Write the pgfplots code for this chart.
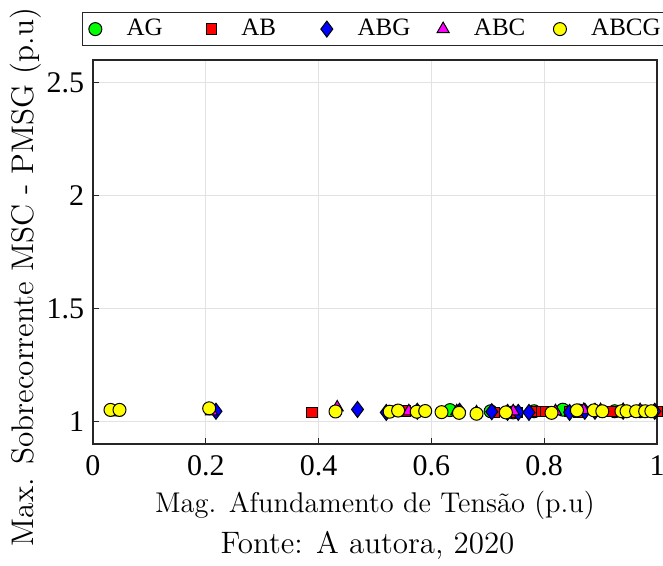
\documentclass[border=0pt]{standalone}
\usepackage{fontspec}
\usepackage{pgfplots}
\pgfplotsset{compat=1.18}
\newfontfamily\timesf{Liberation Serif}
\definecolor{gridc}{RGB}{226,226,226}
\definecolor{axc}{RGB}{38,38,38}
\definecolor{mgreen}{RGB}{0,255,0}
\definecolor{mred}{RGB}{255,0,0}
\definecolor{mblue}{RGB}{0,0,255}
\definecolor{mmag}{RGB}{255,0,255}
\definecolor{myel}{RGB}{255,255,0}
\newcommand{\lb}[1]{\makebox[29.8pt][l]{#1}}
\begin{document}
\begin{tikzpicture}
\useasboundingbox (-37.2pt,-48.4pt) rectangle (228pt,177.6pt);
\begin{axis}[
  at={(0,0)}, anchor=south west,
  width=225.6pt, height=153.6pt, scale only axis,
  xmin=0, xmax=1, ymin=0.9, ymax=2.6,
  xtick={0,0.2,0.4,0.6,0.8,1}, ytick={1,1.5,2,2.5},
  xticklabels={0,0.2,0.4,0.6,0.8,1},
  yticklabels={1,1.5,2,2.5},
  grid=major, major grid style={gridc, line width=0.5pt},
  axis line style={axc, line width=0.6pt},
  tick align=inside, xtick pos=bottom, ytick pos=left,
  major tick length=2.5pt, tick style={axc, line width=0.5pt},
  ticklabel style={font=\timesf\fontsize{12}{14}\selectfont},
  xticklabel style={yshift=-1pt},
  xlabel={Mag. Afundamento de Tensão (p.u)},
  ylabel={Max. Sobrecorrente MSC - PMSG (p.u)},
  xlabel style={font=\fontsize{11.4}{14}\selectfont, at={(axis description cs:0.5,-0.159)}, anchor=center},
  ylabel style={font=\fontsize{12.5}{14}\selectfont, at={(axis description cs:-0.12,0.435)}, anchor=center},
  clip=false,
  legend style={at={(axis description cs:0.504,1)}, yshift=5.5pt, anchor=south, legend columns=-1,
    draw=axc, line width=0.6pt, font=\timesf\fontsize{10}{12}\selectfont,
    inner ysep=0.5pt, inner xsep=2.5pt,
    nodes={inner ysep=2pt},
    /tikz/every odd column/.append style={column sep=7.9pt},
    /tikz/every even column/.append style={column sep=0pt}},
  legend cell align=left,
]
\addplot[only marks, mark=*, mark size=2.6pt, mark options={fill=mgreen, draw=black, line width=0.4pt}] coordinates {
(0.633,1.050) (0.705,1.045) (0.745,1.040) (0.782,1.045) (0.833,1.052) (0.862,1.048) (0.925,1.045) (0.970,1.045)
};
\addlegendentry{\lb{AG}}
\addplot[only marks, mark=square*, mark size=2.1pt, mark options={fill=mred, draw=black, line width=0.4pt}] coordinates {
(0.388,1.040) (0.546,1.044) (0.553,1.046) (0.712,1.040) (0.752,1.040) (0.785,1.045) (0.795,1.045) (0.802,1.045) (0.846,1.043) (0.862,1.040) (0.920,1.045) (0.960,1.045) (0.985,1.045) (1.000,1.045)
};
\addlegendentry{\lb{AB}}
\addplot[only marks, mark=diamond*, mark size=3.2pt, mark options={fill=mblue, draw=black, line width=0.4pt}] coordinates {
(0.218,1.045) (0.469,1.053) (0.520,1.040) (0.575,1.045) (0.650,1.045) (0.707,1.043) (0.735,1.040) (0.754,1.040) (0.773,1.040) (0.845,1.040) (0.872,1.045) (0.890,1.045) (0.940,1.045) (0.996,1.045)
};
\addlegendentry{\lb{ABG}}
\addplot[only marks, mark=triangle*, mark size=2.8pt, mark options={fill=mmag, draw=black, line width=0.4pt}] coordinates {
(0.040,1.040) (0.210,1.045) (0.433,1.062) (0.560,1.045) (0.645,1.045) (0.680,1.040) (0.745,1.045) (0.820,1.045) (0.870,1.050) (0.900,1.050) (0.940,1.050) (0.970,1.050)
};
\addlegendentry{\lb{ABC}}
\addplot[only marks, mark=*, mark size=2.6pt, mark options={fill=myel, draw=black, line width=0.4pt}] coordinates {
(0.031,1.051) (0.047,1.051) (0.206,1.058) (0.430,1.044) (0.526,1.043) (0.541,1.048) (0.574,1.043) (0.589,1.046) (0.618,1.041) (0.649,1.038) (0.680,1.034) (0.732,1.040) (0.813,1.038) (0.858,1.049) (0.888,1.049) (0.903,1.045) (0.937,1.045) (0.946,1.045) (0.963,1.045) (0.979,1.045) (0.990,1.045)
};
\addlegendentry{ABCG}
\end{axis}
\node[font=\fontsize{12.4}{14}\selectfont] at (109.8pt,-40.4pt) {Fonte: A autora, 2020};
\end{tikzpicture}
\end{document}
